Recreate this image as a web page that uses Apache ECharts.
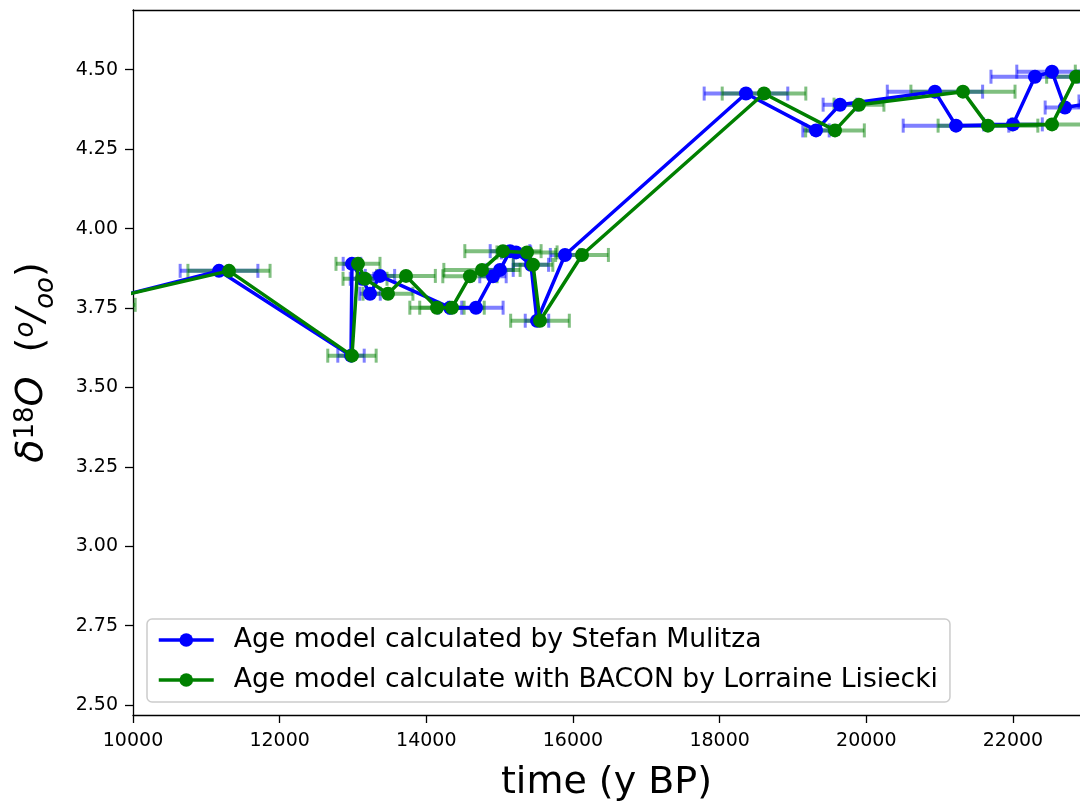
<!DOCTYPE html>
<html>
<head>
<meta charset="utf-8">
<script src="https://cdn.jsdelivr.net/npm/echarts@6/dist/echarts.min.js"></script>
<style>
html,body{margin:0;padding:0;background:#fff;}
#chart{width:1080px;height:807px;}
</style>
</head>
<body>
<div id="chart"></div>
<script>
// d18O values (same samples for both age models)
const d18O = [3.76, 3.867, 3.600, 3.889, 3.842, 3.795, 3.851, 3.751, 3.751, 3.850, 3.870, 3.929, 3.925, 3.886, 3.710, 3.917, 4.425, 4.309, 4.390, 4.431, 4.324, 4.328, 4.478, 4.494, 4.381, 4.40];
// Ages (y BP), Stefan Mulitza model
const ageMulitza = [9350, 11173, 12973, 12986, 13123, 13232, 13368, 14323, 14677, 14909, 15005, 15141, 15223, 15427, 15509, 15891, 18359, 19314, 19641, 20936, 21223, 22000, 22300, 22532, 22709, 23200];
const errMulitza = [500, 530, 180, 120, 160, 140, 200, 160, 370, 180, 180, 270, 200, 240, 160, 200, 570, 180, 230, 650, 720, 400, 600, 480, 270, 300];
// Ages (y BP), BACON model by Lorraine Lisiecki
const ageBacon = [9300, 11309, 12986, 13068, 13164, 13477, 13723, 14145, 14350, 14595, 14759, 15045, 15373, 15455, 15550, 16123, 18605, 19573, 19900, 21318, 21659, 22532, 22859, 23250, 23400, 23600];
const errBacon = [730, 560, 330, 300, 300, 340, 400, 370, 440, 370, 520, 520, 410, 270, 400, 360, 570, 400, 340, 710, 680, 550, 400, 400, 400, 400];

const xTicks = [10000, 12000, 14000, 16000, 18000, 20000, 22000];
const yTicks = [2.50, 2.75, 3.00, 3.25, 3.50, 3.75, 4.00, 4.25, 4.50];

const seriesNames = ['Age model calculated by Stefan Mulitza', 'Age model calculate with BACON by Lorraine Lisiecki'];

const lineData = (ages) => ages.map((a, i) => [a, d18O[i]]);
const errData = (ages, errs) => ages.map((a, i) => [a, d18O[i], errs[i]]);

function errRender(color) {
  return function (params, api) {
    const x = api.value(0), y = api.value(1), e = api.value(2);
    const p1 = api.coord([x - e, y]);
    const p2 = api.coord([x + e, y]);
    const cs = params.coordSys;
    const left = cs.x, right = cs.x + cs.width;
    const children = [];
    const x1 = Math.max(p1[0], left), x2 = Math.min(p2[0], right);
    if (x2 > x1) {
      children.push({type: 'line', shape: {x1: x1, y1: p1[1], x2: x2, y2: p2[1]},
        style: {stroke: color, lineWidth: 4}});
    }
    const capH = 7;
    [p1[0], p2[0]].forEach(function (cx) {
      if (cx >= left && cx <= right) {
        children.push({type: 'line', shape: {x1: cx, y1: p1[1] - capH, x2: cx, y2: p1[1] + capH},
          style: {stroke: color, lineWidth: 3}});
      }
    });
    return {type: 'group', children: children};
  };
}

const font = 'DejaVu Sans';
const chart = echarts.init(document.getElementById('chart'), null, {renderer: 'canvas'});
chart.setOption({
  animation: false,
  backgroundColor: '#ffffff',
  grid: {left: 133, top: 10, right: 0, bottom: 89, containLabel: false},
  xAxis: [{
    type: 'value', min: 10000, max: 22914,
    name: 'time (y BP)', nameLocation: 'middle', nameGap: 49,
    nameTextStyle: {fontFamily: font, fontSize: 38, color: '#000'},
    axisLine: {show: true, onZero: false, lineStyle: {color: '#000', width: 1.3}},
    axisTick: {show: true, length: 8, lineStyle: {color: '#000', width: 1.3}, customValues: xTicks},
    axisLabel: {fontFamily: font, fontSize: 19, color: '#000', margin: 17, customValues: xTicks,
      formatter: function (v) { return String(Math.round(v)); }},
    splitLine: {show: false}
  }, {
    type: 'value', min: 10000, max: 22914, position: 'top',
    axisLine: {show: true, onZero: false, lineStyle: {color: '#000', width: 1.3}},
    axisTick: {show: false}, axisLabel: {show: false}, splitLine: {show: false}
  }],
  yAxis: {
    type: 'value', min: 2.469, max: 4.688,
    name: '{d|δ}{u|18}{i|O}{n|  (}{s|o}{i|/}{b|oo}{n|)}',
    nameLocation: 'middle', nameGap: 82, nameRotate: 90,
    nameTextStyle: {
      fontFamily: font, fontSize: 38, color: '#000',
      rich: {
        d: {fontFamily: font, fontSize: 38, fontStyle: 'italic', color: '#000', verticalAlign: 'bottom'},
        i: {fontFamily: font, fontSize: 38, fontStyle: 'italic', color: '#000', verticalAlign: 'bottom'},
        n: {fontFamily: font, fontSize: 38, color: '#000', verticalAlign: 'bottom'},
        u: {fontFamily: font, fontSize: 26, color: '#000', verticalAlign: 'top'},
        s: {fontFamily: font, fontSize: 26, fontStyle: 'italic', color: '#000', verticalAlign: 'top'},
        b: {fontFamily: font, fontSize: 26, fontStyle: 'italic', color: '#000', verticalAlign: 'bottom', padding: [0, 0, -8, 0]}
      }
    },
    axisLine: {show: true, onZero: false, lineStyle: {color: '#000', width: 1.3}},
    axisTick: {show: true, length: 8, lineStyle: {color: '#000', width: 1.3}, customValues: yTicks},
    axisLabel: {fontFamily: font, fontSize: 19, color: '#000', margin: 15, customValues: yTicks,
      formatter: function (v) { return v.toFixed(2); }},
    splitLine: {show: false}
  },
  legend: {
    orient: 'vertical', left: 147, top: 619,
    data: seriesNames,
    itemWidth: 55, itemHeight: 17, itemGap: 10,
    padding: [6, 12, 7, 10],
    backgroundColor: 'rgba(255,255,255,0.8)',
    borderColor: '#cccccc', borderWidth: 1.5, borderRadius: 5,
    lineStyle: {width: 3.5},
    textStyle: {fontFamily: font, fontSize: 26.6, color: '#000', lineHeight: 30, padding: [0, 0, 0, 15]}
  },
  series: [
    {type: 'custom', name: 'errM', renderItem: errRender('rgba(0,0,255,0.5)'),
      data: errData(ageMulitza, errMulitza), encode: {x: 0, y: 1}, z: 1, silent: true},
    {type: 'custom', name: 'errB', renderItem: errRender('rgba(0,128,0,0.5)'),
      data: errData(ageBacon, errBacon), encode: {x: 0, y: 1}, z: 1, silent: true},
    {type: 'line', name: seriesNames[0], data: lineData(ageMulitza), z: 3,
      symbol: 'circle', symbolSize: 14, showAllSymbol: true,
      lineStyle: {color: '#0000ff', width: 3.5}, itemStyle: {color: '#0000ff'}, clip: true},
    {type: 'line', name: seriesNames[1], data: lineData(ageBacon), z: 4,
      symbol: 'circle', symbolSize: 14, showAllSymbol: true,
      lineStyle: {color: '#008000', width: 3.5}, itemStyle: {color: '#008000'}, clip: true}
  ]
});
</script>
</body>
</html>
